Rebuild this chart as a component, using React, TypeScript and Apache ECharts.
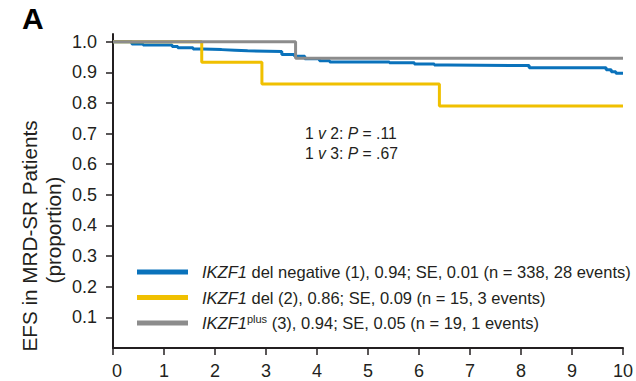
import React, { useEffect, useRef } from "react";
import * as echarts from "echarts";

const xTicks = [0, 1, 2, 3, 4, 5, 6, 7, 8, 9, 10];
const yTicks = [0.1, 0.2, 0.3, 0.4, 0.5, 0.6, 0.7, 0.8, 0.9, 1.0];

const seriesNames = ["neg", "del", "plus"];
const legendLabels = [
  "{i|IKZF1} del negative (1), 0.94; SE, 0.01 (n = 338, 28 events)",
  "{i|IKZF1} del (2), 0.86; SE, 0.09 (n = 15, 3 events)",
  "{i|IKZF1}{sup|plus} (3), 0.94; SE, 0.05 (n = 19, 1 events)",
];

const blueX = [0, 0.37, 0.59, 1.16, 1.27, 1.57, 1.76, 2.13, 2.39, 2.64, 3.31, 3.56, 3.76, 4.05, 4.25, 5.42, 5.91, 6.3, 6.56, 8.16, 9.67, 9.77, 9.86, 10];
const blueY = [1.0, 0.992, 0.989, 0.984, 0.98, 0.976, 0.974, 0.972, 0.97, 0.968, 0.958, 0.952, 0.944, 0.938, 0.934, 0.931, 0.927, 0.924, 0.922, 0.915, 0.908, 0.902, 0.897, 0.897];

const yellowX = [0, 1.74, 2.92, 6.4, 10];
const yellowY = [1.0, 0.933, 0.862, 0.79, 0.79];

const grayX = [0, 3.58, 10];
const grayY = [1.0, 0.946, 0.946];

const colors = ["#0a72bb", "#f0c000", "#8c8c8c"];

const FONT = "Liberation Sans, Arial, Helvetica, sans-serif";
const INK = "#231f20";
const LEG = 16.5;
const NOTE = 15.7;

function zip(xs: number[], ys: number[]) {
  return xs.map((x, i) => [x, ys[i]]);
}

export default function App() {
  const ref = useRef<HTMLDivElement>(null);
  useEffect(() => {
    if (!ref.current) return;
    const chart = echarts.init(ref.current, undefined, { renderer: "svg" });
    const data = [zip(blueX, blueY), zip(yellowX, yellowY), zip(grayX, grayY)];
    chart.setOption({
      animation: false,
      grid: { left: 113, right: 12, top: 34, bottom: 33 },
      xAxis: {
        type: "value",
        min: 0,
        max: 10,
        interval: 1,
        splitLine: { show: false },
        axisLine: { lineStyle: { color: INK, width: 2 } },
        axisTick: { length: 7, lineStyle: { color: INK, width: 1.5 } },
        axisLabel: {
          color: INK,
          fontSize: 18,
          fontFamily: FONT,
          margin: 14,
          formatter: (v: number) => (v === 0 ? "{z|0}" : String(v)),
          rich: { z: { fontSize: 18, fontFamily: FONT, color: INK, padding: [0, 0, 0, 8] } },
        },
      },
      yAxis: {
        type: "value",
        min: 0,
        max: 1.025,
        splitLine: { show: false },
        axisLine: { lineStyle: { color: INK, width: 2 } },
        axisTick: { length: 7, lineStyle: { color: INK, width: 1.5 }, customValues: yTicks },
        axisLabel: {
          color: INK,
          fontSize: 18,
          fontFamily: FONT,
          margin: 16,
          customValues: yTicks,
          formatter: (v: number) => v.toFixed(1),
        },
      },
      legend: {
        orient: "vertical",
        left: 137,
        top: 262,
        padding: 0,
        icon: "rect",
        itemWidth: 51,
        itemHeight: 5,
        itemGap: 5.5,
        data: seriesNames,
        formatter: (name: string) => "{g| }" + legendLabels[seriesNames.indexOf(name)],
        textStyle: {
          color: INK,
          fontSize: LEG,
          fontFamily: FONT,
          lineHeight: 20,
          rich: {
            g: { width: 9, fontSize: LEG, lineHeight: 20 },
            i: { fontStyle: "italic", fontSize: LEG, fontFamily: FONT, color: INK, lineHeight: 20 },
            sup: { fontSize: 11, fontFamily: FONT, color: INK, verticalAlign: "top", lineHeight: 11 },
          },
        },
      },
      graphic: [
        {
          type: "text",
          left: 22,
          top: 3,
          style: { text: "A", font: `bold 30px ${FONT}`, fill: "#000" },
        },
        {
          type: "text",
          x: 29,
          y: 236,
          rotation: Math.PI / 2,
          style: {
            text: "EFS in MRD-SR Patients",
            font: `20.7px ${FONT}`,
            fill: INK,
            align: "center",
            verticalAlign: "middle",
          },
        },
        {
          type: "text",
          x: 53,
          y: 230,
          rotation: Math.PI / 2,
          style: {
            text: "(proportion)",
            font: `20.7px ${FONT}`,
            fill: INK,
            align: "center",
            verticalAlign: "middle",
          },
        },
        {
          type: "text",
          x: 305,
          y: 133,
          style: {
            text: "1 {i|v} 2: {i|P} = .11",
            font: `${NOTE}px ${FONT}`,
            fill: INK,
            verticalAlign: "middle",
            rich: { i: { fontStyle: "italic", fontSize: NOTE, fontFamily: FONT, fill: INK } },
          },
        },
        {
          type: "text",
          x: 305,
          y: 153,
          style: {
            text: "1 {i|v} 3: {i|P} = .67",
            font: `${NOTE}px ${FONT}`,
            fill: INK,
            verticalAlign: "middle",
            rich: { i: { fontStyle: "italic", fontSize: NOTE, fontFamily: FONT, fill: INK } },
          },
        },
      ],
      series: seriesNames.map((name, i) => ({
        name,
        type: "line",
        step: "end",
        symbol: "none",
        data: data[i],
        lineStyle: { color: colors[i], width: 3 },
        itemStyle: { color: colors[i] },
        z: 2 + i,
      })),
    });
    return () => chart.dispose();
  }, []);
  return (
    <div
      ref={ref}
      style={{ position: "fixed", left: 0, top: 0, width: 636, height: 381, background: "#fff" }}
    />
  );
}
